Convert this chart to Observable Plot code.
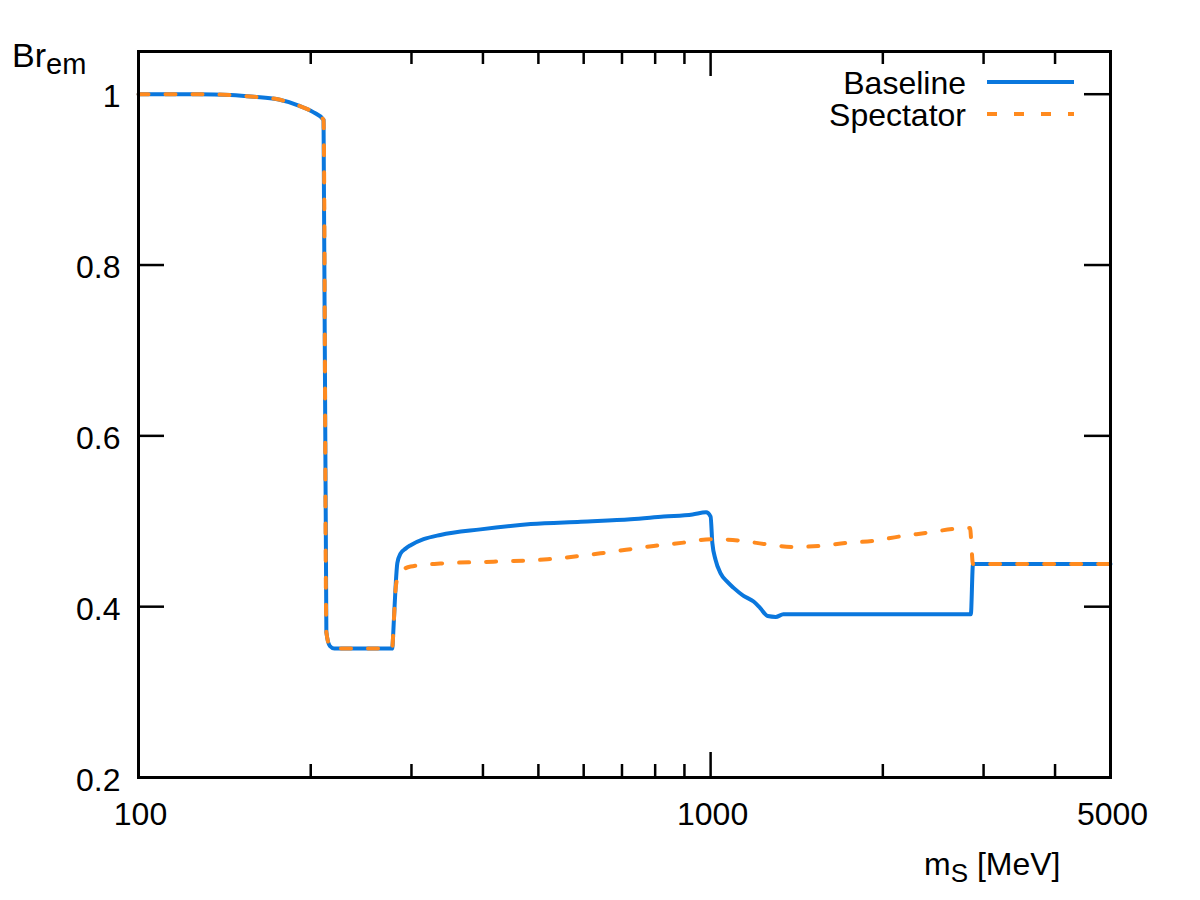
<!DOCTYPE html>
<html>
<head>
<meta charset="utf-8">
<script src="https://cdn.jsdelivr.net/npm/d3@7"></script>
<script src="https://cdn.jsdelivr.net/npm/@observablehq/plot@0.6"></script>
<style>
  html, body { margin: 0; padding: 0; background: #ffffff; }
  #chart { width: 1200px; height: 900px; }
</style>
</head>
<body>
<div id="chart"></div>
<script>
// ---- data ----
const baselineMass = [100, 127, 145, 159, 175, 190, 202, 210.6, 213, 216, 220, 277.5, 279.5, 281.4, 283.4, 287, 293, 299, 315, 337, 396, 485, 593, 725, 828, 930, 982, 1000, 1007, 1020, 1041, 1070, 1097, 1140, 1189, 1222, 1258, 1300, 1340, 1380, 2850, 2875, 5000];
const baselineBr   = [1.0, 1.0, 0.999, 0.997, 0.994, 0.987, 0.979, 0.970, 0.370, 0.354, 0.351, 0.351, 0.384, 0.423, 0.451, 0.462, 0.468, 0.472, 0.479, 0.484, 0.4905, 0.4967, 0.4995, 0.5023, 0.5055, 0.508, 0.5105, 0.5055, 0.4745, 0.455, 0.439, 0.429, 0.422, 0.413, 0.406, 0.398, 0.389, 0.388, 0.391, 0.391, 0.391, 0.45, 0.45];

const spectatorMass = [100, 127, 145, 159, 175, 190, 202, 210.6, 213, 216, 220, 277.5, 279.5, 281.4, 284, 290, 299, 337, 417, 519, 642, 795, 897, 1000, 1119, 1238, 1391, 1545, 1722, 1919, 2132, 2396, 2659, 2840, 2875, 5000];
const spectatorBr   = [1.0, 1.0, 0.999, 0.997, 0.994, 0.987, 0.979, 0.970, 0.370, 0.354, 0.351, 0.351, 0.384, 0.42, 0.435, 0.443, 0.447, 0.4505, 0.4527, 0.4555, 0.4625, 0.471, 0.475, 0.479, 0.4775, 0.4735, 0.470, 0.471, 0.4745, 0.477, 0.482, 0.4867, 0.491, 0.492, 0.45, 0.45];

const xTickLabels = [100, 1000, 5000];
const xMajorTicks = [1000];
const xMinorTicks = [200, 300, 400, 500, 600, 700, 800, 900, 2000, 3000, 4000];
const yTicks = [0.2, 0.4, 0.6, 0.8, 1.0];
const seriesNames = ["Baseline", "Spectator"];
const seriesColors = ["#0a77dd", "#ff8a1e"];

// ---- build ----
const baseline = baselineMass.map((m, i) => ({m, br: baselineBr[i]}));
const spectator = spectatorMass.map((m, i) => ({m, br: spectatorBr[i]}));

const W = 1200, H = 900;
const mL = 138, mR = 90, mT = 51, mB = 123;
const fw = W - mL - mR, fh = H - mT - mB;
const FONT = "'Liberation Sans', Arial, Helvetica, sans-serif";
const FS = 32;

const plot = Plot.plot({
  width: W, height: H,
  marginLeft: mL, marginRight: mR, marginTop: mT, marginBottom: mB,
  style: {fontFamily: FONT, fontSize: FS + "px", background: "white", color: "black"},
  x: {type: "log", domain: [100, 5000], axis: null},
  y: {domain: [0.2, 1.05], axis: null},
  marks: [
    // inward ticks, bottom & top
    Plot.tickX(xMinorTicks, {x: d => d, insetTop: fh - 13, stroke: "black", strokeWidth: 2.5}),
    Plot.tickX(xMinorTicks, {x: d => d, insetBottom: fh - 13, stroke: "black", strokeWidth: 2.5}),
    Plot.tickX(xMajorTicks, {x: d => d, insetTop: fh - 25, stroke: "black", strokeWidth: 2.5}),
    Plot.tickX(xMajorTicks, {x: d => d, insetBottom: fh - 25, stroke: "black", strokeWidth: 2.5}),
    // inward ticks, left & right
    Plot.tickY(yTicks, {y: d => d, insetRight: fw - 26, stroke: "black", strokeWidth: 2.5}),
    Plot.tickY(yTicks, {y: d => d, insetLeft: fw - 26, stroke: "black", strokeWidth: 2.5}),
    // tick labels
    Plot.text(xTickLabels, {x: d => d, text: d => String(d), frameAnchor: "bottom", lineAnchor: "top", dy: 25, dx: 2, fontSize: FS, fontFamily: FONT, fill: "black"}),
    Plot.text(yTicks, {y: d => d, text: d => d === 1 ? "1" : d.toFixed(1), frameAnchor: "left", textAnchor: "end", dx: -18, dy: 3, fontSize: FS, fontFamily: FONT, fill: "black"}),
    // series
    Plot.line(baseline, {x: "m", y: "br", stroke: seriesColors[0], strokeWidth: 4, curve: "monotone-x"}),
    Plot.line(spectator, {x: "m", y: "br", stroke: seriesColors[1], strokeWidth: 4, strokeDasharray: "10,17", curve: "monotone-x"}),
    Plot.frame({stroke: "black", strokeWidth: 3})
  ]
});

document.getElementById("chart").appendChild(plot);

// ---- axis titles & legend (text) ----
const svg = d3.select(plot);
const g = svg.append("g").attr("font-family", FONT).attr("fill", "black").attr("text-anchor", "start");

const yt = g.append("text").attr("x", 12).attr("y", 67).attr("font-size", 34).attr("text-anchor", "start");
yt.append("tspan").text("Br");
yt.append("tspan").attr("font-size", 29).attr("dy", 7).text("em");

const xt = g.append("text").attr("x", 924).attr("y", 875).attr("font-size", FS).attr("text-anchor", "start");
xt.append("tspan").text("m");
xt.append("tspan").attr("font-size", 26).attr("dy", 7).text("S");
xt.append("tspan").attr("dy", -7).text(" [MeV]");

const legendY = [94, 126];
seriesNames.forEach((name, i) => {
  g.append("text").attr("x", 966).attr("y", legendY[i]).attr("text-anchor", "end")
    .attr("font-size", FS).text(name);
  const ln = g.append("line").attr("x1", 987).attr("x2", 1074)
    .attr("y1", legendY[i] - 12).attr("y2", legendY[i] - 12)
    .attr("stroke", seriesColors[i]).attr("stroke-width", 4);
  if (i === 1) ln.attr("stroke-dasharray", "10,17");
});
</script>
</body>
</html>
